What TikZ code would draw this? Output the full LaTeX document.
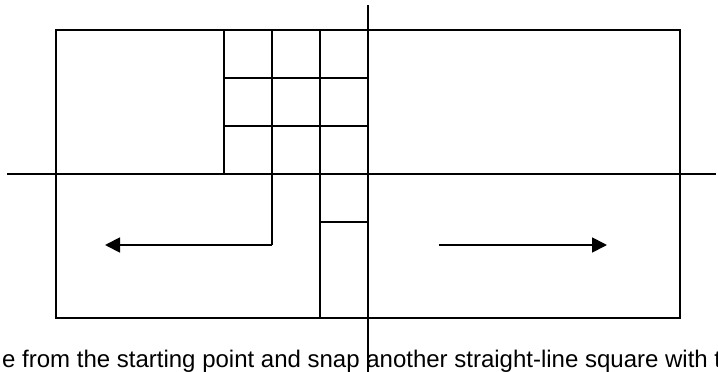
\documentclass[tikz,border=0pt]{standalone}
\usepackage{fontspec}
\setmainfont{Liberation Sans}
\usetikzlibrary{arrows.meta}
\begin{document}
\begin{tikzpicture}[x=1pt,y=-1pt,
  ln/.style={line width=1.8pt,black},
  arr/.style={ln,-{Triangle[length=15pt,width=15pt]}}]
\useasboundingbox (0,0) rectangle (718,372);
\clip (0,0) rectangle (718,372);
% outer rectangle
\draw[ln] (56,30) rectangle (680,318);
% axes
\draw[ln] (368,5) -- (368,372);
\draw[ln] (7,174) -- (716,174);
% grid
\draw[ln] (224,30) -- (224,174);
\draw[ln] (272,30) -- (272,245);
\draw[ln] (320,30) -- (320,318);
\draw[ln] (224,78) -- (368,78);
\draw[ln] (224,126) -- (368,126);
\draw[ln] (320,222) -- (368,222);
% arrows
\coordinate (la) at (272,245);
\coordinate (lb) at (105,245);
\coordinate (ra) at (439,245);
\coordinate (rb) at (607,245);
\draw[arr] (la) -- (lb);
\draw[arr] (ra) -- (rb);
% text
\node[anchor=base west,inner sep=0pt,font=\fontsize{24}{28}\selectfont] (txt) at (2,367) {e from the starting point and snap another straight-line square with t};
\end{tikzpicture}
\end{document}
